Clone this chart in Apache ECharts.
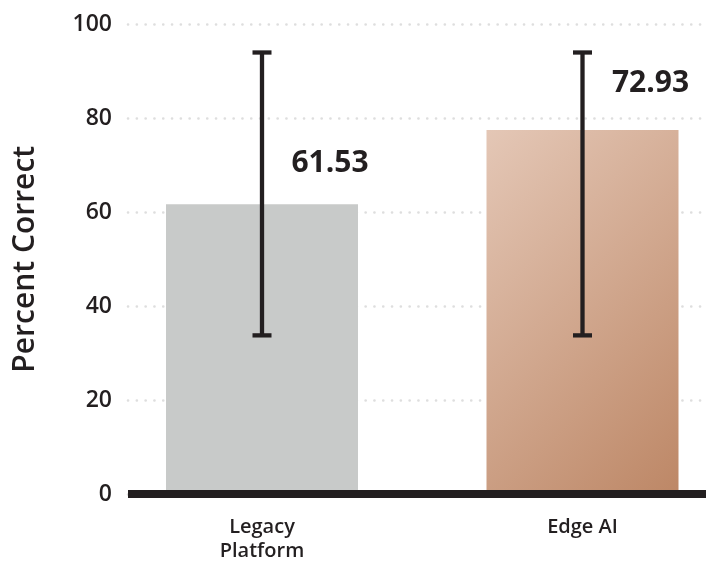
<!DOCTYPE html>
<html><head><meta charset="utf-8">
<script src="https://cdn.jsdelivr.net/npm/echarts@6/dist/echarts.min.js"></script>
<style>html,body{margin:0;padding:0;background:#fff}#c{width:706px;height:566px}</style>
</head><body><div id="c"></div>
<script>
// ---- data ----
const categories = ['Legacy\nPlatform', 'Edge AI'];
const barValues = [61.7, 77.5];
const valueLabels = ['61.53', '72.93'];
const errLow = [33.8, 33.8];
const errHigh = [94.0, 94.0];
const yMin = 0, yMax = 100, yStep = 20;
const yAxisTitle = 'Percent Correct';

// ---- styles ----
const FONT = "'Open Sans', 'Lato', sans-serif";
const INK = '#231f20';
const TOP = 24.3, BOTTOM = 71.8;

const edgeGradient = new echarts.graphic.LinearGradient(0, 0, 1.448, 0.764, [
  { offset: 0, color: '#e4c7b6' },
  { offset: 1, color: '#bd8766' }
]);
const barStyles = [
  { color: '#c8cac9' },
  { color: edgeGradient }
];
const labelOffsets = [[68, -26], [68, -32]];

const chart = echarts.init(document.getElementById('c'), null, { renderer: 'canvas' });

chart.setOption({
  backgroundColor: '#ffffff',
  animation: false,
  textStyle: { fontFamily: FONT },
  grid: [
    { left: 128, right: 0, top: TOP, bottom: BOTTOM, outerBoundsMode: 'none', containLabel: false },
    { left: 101.75, width: 641, top: TOP, bottom: BOTTOM, outerBoundsMode: 'none', containLabel: false }
  ],
  xAxis: [
    {
      gridIndex: 0, type: 'value', min: 0, max: 1,
      axisLabel: { show: false }, axisTick: { show: false }, splitLine: { show: false },
      axisLine: { show: true, onZero: false, lineStyle: { color: INK, width: 8, cap: 'butt' } },
      z: 5
    },
    {
      gridIndex: 1, type: 'category', data: categories,
      axisLine: { show: false }, axisTick: { show: false },
      axisLabel: {
        margin: 21, fontSize: 20, fontWeight: 600, color: INK,
        lineHeight: 24, fontFamily: FONT, interval: 0
      }
    }
  ],
  yAxis: [
    {
      gridIndex: 0, type: 'value', min: yMin, max: yMax, interval: yStep,
      axisLine: { show: false }, axisTick: { show: false },
      axisLabel: { margin: 16, fontSize: 23, fontWeight: 600, color: INK, fontFamily: FONT },
      splitLine: { show: true, lineStyle: { color: '#dedede', width: 2.6, type: [0.1, 8.7], cap: 'round' } },
      name: yAxisTitle, nameLocation: 'middle', nameGap: 88,
      nameTextStyle: { fontSize: 30, fontWeight: 600, color: INK, fontFamily: FONT }
    },
    {
      gridIndex: 1, type: 'value', min: yMin, max: yMax, interval: yStep, show: false
    }
  ],
  series: [
    {
      type: 'bar', xAxisIndex: 1, yAxisIndex: 1, barWidth: 192, z: 2,
      data: barValues.map((v, i) => ({
        value: v,
        itemStyle: barStyles[i],
        label: { offset: labelOffsets[i] }
      })),
      label: {
        show: true, position: 'top', distance: 0,
        formatter: p => valueLabels[p.dataIndex],
        fontSize: 30, fontWeight: 'bold', color: INK, fontFamily: FONT
      }
    },
    {
      type: 'custom', xAxisIndex: 1, yAxisIndex: 1, z: 4,
      data: categories.map((c, i) => [i, errLow[i], errHigh[i]]),
      encode: { x: 0, y: [1, 2] },
      renderItem: function (params, api) {
        const x = api.value(0);
        const pLo = api.coord([x, api.value(1)]);
        const pHi = api.coord([x, api.value(2)]);
        const hw = 9.5;
        const style = { stroke: INK, lineWidth: 4.3 };
        return {
          type: 'group',
          children: [
            { type: 'line', shape: { x1: pLo[0], y1: pLo[1], x2: pHi[0], y2: pHi[1] }, style },
            { type: 'line', shape: { x1: pHi[0] - hw, y1: pHi[1], x2: pHi[0] + hw, y2: pHi[1] }, style },
            { type: 'line', shape: { x1: pLo[0] - hw, y1: pLo[1], x2: pLo[0] + hw, y2: pLo[1] }, style }
          ]
        };
      }
    }
  ]
});
</script>
</body></html>
